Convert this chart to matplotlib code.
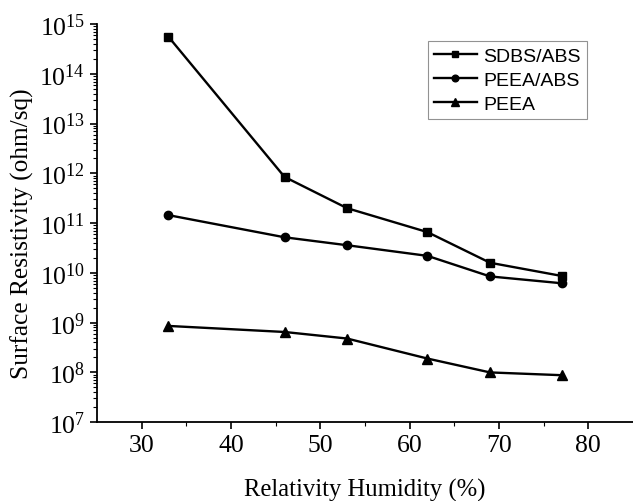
import numpy as np
import matplotlib
matplotlib.use('Agg')
import matplotlib.pyplot as plt
from matplotlib.ticker import LogLocator, FixedLocator, NullFormatter

plt.rcParams['font.family'] = 'Liberation Serif'
plt.rcParams['mathtext.fontset'] = 'custom'
plt.rcParams['mathtext.rm'] = 'Liberation Serif'

################################################################################
# DATA
################################################################################
humidity = [33, 46, 53, 62, 69, 77]
sdbs_abs = [5.6e14, 8.5e11, 2.0e11, 6.6e10, 1.6e10, 8.7e9]
peea_abs = [1.45e11, 5.2e10, 3.6e10, 2.2e10, 8.5e9, 6.2e9]
peea = [8.6e8, 6.5e8, 4.8e8, 1.9e8, 1.0e8, 8.8e7]

y_exponents = list(range(7, 16))

################################################################################
# PLOT
################################################################################
fig = plt.figure(figsize=(6.33, 5.02), dpi=100)
ax = fig.add_axes([0.153, 0.157, 0.847, 0.793])

ax.plot(humidity, sdbs_abs, '-s', color='k', lw=1.7, ms=6, label='SDBS/ABS')
ax.plot(humidity, peea_abs, '-o', color='k', lw=1.7, ms=6, label='PEEA/ABS')
ax.plot(humidity, peea, '-^', color='k', lw=1.7, ms=7, label='PEEA')

ax.set_yscale('log')
ax.set_xlim(25, 85)
ax.set_ylim(1e7, 1e15)

ax.set_xticks([30, 40, 50, 60, 70, 80])
ax.xaxis.set_minor_locator(FixedLocator([35, 45, 55, 65, 75]))
ax.set_yticks([10.0**e for e in y_exponents])
ax.set_yticklabels([r'$\mathregular{10^{%d}}$' % e for e in y_exponents])
ax.yaxis.set_minor_locator(LogLocator(base=10, subs=np.arange(2, 10), numticks=50))
ax.yaxis.set_minor_formatter(NullFormatter())

ax.spines['top'].set_visible(False)
ax.spines['right'].set_visible(False)
ax.spines['left'].set_linewidth(1.3)
ax.spines['bottom'].set_linewidth(1.3)
ax.tick_params(which='major', direction='out', length=5, width=1.2, labelsize=18.5)
ax.tick_params(which='minor', direction='out', length=3, width=0.8)

ax.set_xlabel('Relativity Humidity (%)', fontsize=17.7, labelpad=16)
ax.set_ylabel('Surface Resistivity (ohm/sq)', fontsize=18.3)
ax.yaxis.set_label_coords(-0.117, 0.476)

leg = ax.legend(loc='upper left', bbox_to_anchor=(0.6175, 0.957), frameon=True,
                fancybox=False, edgecolor='#777777', prop={'family': 'Liberation Sans', 'size': 14},
                handlelength=2.2, borderpad=0.3, labelspacing=0.34, handletextpad=0.35,
                borderaxespad=0, markerscale=0.8)
leg.get_frame().set_linewidth(0.8)

plt.savefig('out.png', dpi=100)
